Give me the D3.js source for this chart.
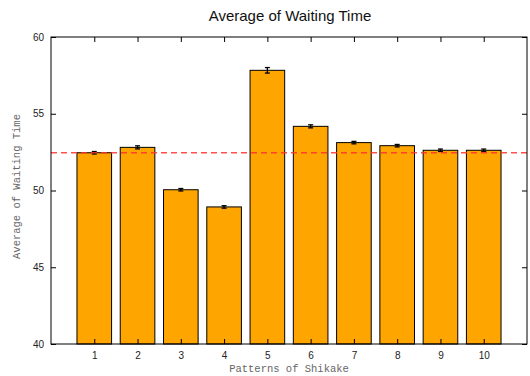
<!DOCTYPE html>
<html><head><meta charset="utf-8">
<script src="https://cdn.jsdelivr.net/npm/d3@7"></script>
<style>body{margin:0;background:#fff}svg{display:block}</style>
</head><body>
<script>
const categories = [1,2,3,4,5,6,7,8,9,10];
const values = [52.46,52.81,50.05,48.93,57.83,54.18,53.12,52.92,52.62,52.62];
const errors = [0.08,0.1,0.08,0.08,0.18,0.1,0.08,0.08,0.08,0.08];
const refValue = 52.46;
const yTicks = [40,45,50,55,60];
const title = "Average of Waiting Time";
const xLabel = "Patterns of Shikake";
const yLabel = "Average of Waiting Time";

const W=530,H=376;
const m={left:51,right:3,top:37,bottom:32};
const svg=d3.select("body").append("svg").attr("width",W).attr("height",H);
const x=d3.scaleLinear().domain([0,11]).range([m.left,W-m.right]);
const y=d3.scaleLinear().domain([40,60]).range([H-m.bottom,m.top]);
const bw=x(0.8)-x(0);

svg.append("g").selectAll("rect").data(categories).join("rect")
  .attr("x",(d)=>x(d)-bw/2).attr("width",bw)
  .attr("y",(d,i)=>y(values[i])).attr("height",(d,i)=>y(40)-y(values[i]))
  .attr("fill","#ffa500").attr("stroke","#000").attr("stroke-width",1);

const eg=svg.append("g").attr("stroke","#000").attr("stroke-width",1.3);
categories.forEach((d,i)=>{
  const cx=x(d);
  eg.append("line").attr("x1",cx).attr("x2",cx).attr("y1",y(values[i]-errors[i])).attr("y2",y(values[i]+errors[i]));
  [values[i]-errors[i],values[i]+errors[i]].forEach(v=>{
    eg.append("line").attr("x1",cx-2.5).attr("x2",cx+2.5).attr("y1",y(v)).attr("y2",y(v));
  });
});

svg.append("line").attr("x1",x(0)).attr("x2",x(11)).attr("y1",y(refValue)).attr("y2",y(refValue))
  .attr("stroke","#ff3030").attr("stroke-opacity",0.85).attr("stroke-width",1.3).attr("stroke-dasharray","6,4");

// frame
svg.append("rect").attr("x",x(0)).attr("y",y(60)).attr("width",x(11)-x(0)).attr("height",y(40)-y(60))
  .attr("fill","none").attr("stroke","#000").attr("stroke-width",1);

// axes with inward ticks
const tickFont="'Liberation Sans',Arial,sans-serif";
const yl=svg.append("g").attr("transform",`translate(${x(0)},0)`).call(d3.axisLeft(y).tickValues(yTicks).tickSize(-5).tickPadding(7));
const yr=svg.append("g").attr("transform",`translate(${x(11)},0)`).call(d3.axisRight(y).tickValues(yTicks).tickSize(-5).tickFormat(""));
const xb=svg.append("g").attr("transform",`translate(0,${y(40)})`).call(d3.axisBottom(x).tickValues(categories).tickSize(-5).tickPadding(8));
const xt=svg.append("g").attr("transform",`translate(0,${y(60)})`).call(d3.axisTop(x).tickValues(categories).tickSize(-5).tickFormat(""));
[yl,yr,xb,xt].forEach(g=>{g.select(".domain").remove();g.selectAll("text").attr("font-family",tickFont).attr("font-size",10).attr("fill","#222");});

svg.append("text").attr("x",290).attr("y",21).attr("text-anchor","middle")
  .attr("font-family",tickFont).attr("font-size",15).attr("fill","#111").text(title);
svg.append("text").attr("x",(x(0)+x(11))/2).attr("y",372).attr("text-anchor","middle")
  .attr("font-family","'Liberation Mono','Courier New',monospace").attr("font-size",10.5).attr("fill","#666").text(xLabel);
svg.append("text").attr("transform",`translate(20,${(y(40)+y(60))/2-4}) rotate(-90)`).attr("text-anchor","middle")
  .attr("font-family","'Liberation Mono','Courier New',monospace").attr("font-size",10.5).attr("fill","#666").text(yLabel);
</script>
</body></html>
